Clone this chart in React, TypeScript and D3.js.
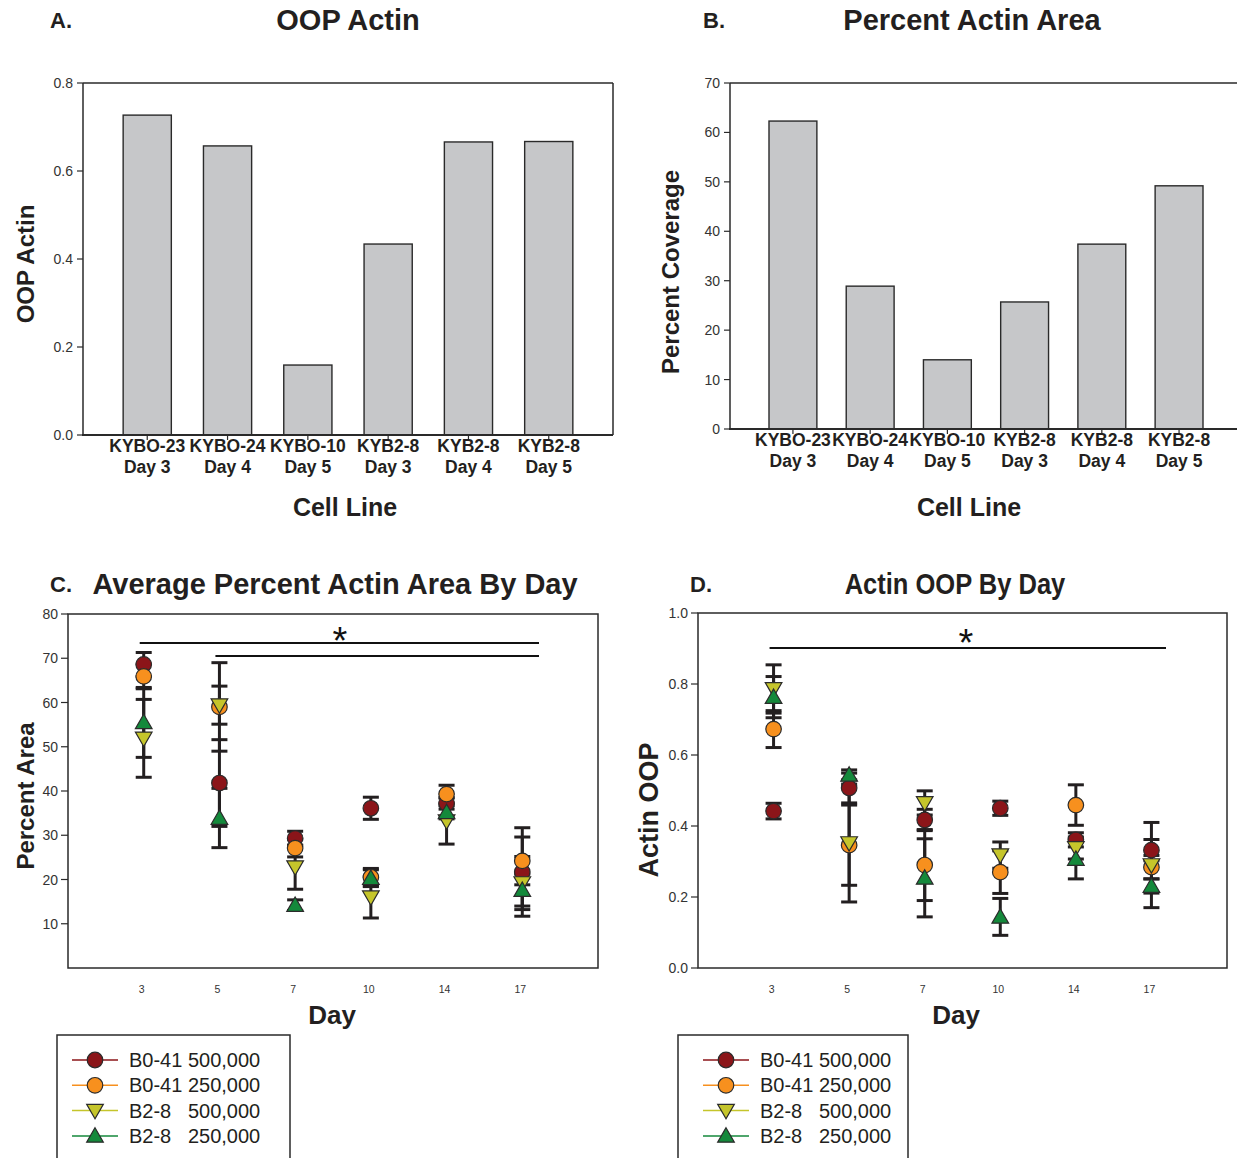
import React from "react";
import * as d3 from "d3";

// ---------- Data ----------
const barLines = ["KYBO-23", "KYBO-24", "KYBO-10", "KYB2-8", "KYB2-8", "KYB2-8"];
const barDays = ["Day 3", "Day 4", "Day 5", "Day 3", "Day 4", "Day 5"];
const oopActin = [0.727, 0.657, 0.159, 0.434, 0.666, 0.667];
const pctCoverage = [62.3, 28.9, 14.0, 25.7, 37.4, 49.2];

const days = ["3", "5", "7", "10", "14", "17"];
const seriesNames = ["B0-41 500,000", "B0-41 250,000", "B2-8   500,000", "B2-8   250,000"];
const seriesColors = ["#8b1519", "#f7901e", "#c5c52b", "#14893b"];
const seriesShapes = ["circle", "circle", "down", "up"];

// Panel C: average percent actin area (mean, error)
const areaB041_500 = [68.6, 41.8, 29.3, 36.1, 37.2, 21.7];
const areaB041_500Err = [2.7, 9.8, 1.6, 2.5, 1.3, 10.0];
const areaB041_250 = [65.9, 59.0, 27.1, 20.5, 39.3, 24.2];
const areaB041_250Err = [2.8, 10.0, 2.0, 2.0, 2.0, 5.4];
const areaB28_500 = [51.9, 59.4, 22.8, 16.0, 33.2, 19.2];
const areaB28_500Err = [8.8, 4.3, 5.0, 4.7, 5.2, 6.0];
const areaB28_250 = [55.5, 33.9, 14.2, 20.3, 35.2, 17.6];
const areaB28_250Err = [7.9, 6.7, 1.2, 1.9, 1.5, 3.6];

// Panel D: actin OOP by day (mean, error)
const oopB041_500 = [0.442, 0.507, 0.417, 0.45, 0.361, 0.332];
const oopB041_500Err = [0.022, 0.042, 0.03, 0.02, 0.02, 0.03];
const oopB041_250 = [0.673, 0.346, 0.29, 0.27, 0.459, 0.284];
const oopB041_250Err = [0.052, 0.113, 0.1, 0.06, 0.057, 0.033];
const oopB28_500 = [0.786, 0.352, 0.465, 0.318, 0.338, 0.29];
const oopB28_500Err = [0.068, 0.166, 0.034, 0.037, 0.031, 0.12];
const oopB28_250 = [0.763, 0.544, 0.254, 0.144, 0.307, 0.231];
const oopB28_250Err = [0.058, 0.014, 0.11, 0.052, 0.056, 0.02];

const areaTicks = [10, 20, 30, 40, 50, 60, 70, 80];
const oopTicks = [0, 0.2, 0.4, 0.6, 0.8, 1.0];
const oopActinTicks = [0, 0.2, 0.4, 0.6, 0.8];
const coverageTicks = [0, 10, 20, 30, 40, 50, 60, 70];

// ---------- Styles ----------
const FONT = "Arial, 'Liberation Sans', Helvetica, sans-serif";
const AX = "#2a2a2a";
const TXT = "#231f20";

function symbolPath(shape: string) {
  if (shape === "circle") return d3.symbol(d3.symbolCircle, 190)()!;
  return d3.symbol(d3.symbolTriangle, 120)()!;
}

function Marker({ x, y, i }: { x: number; y: number; i: number }) {
  const shape = seriesShapes[i];
  const rot = shape === "down" ? 180 : 0;
  const dy = shape === "up" ? 1.5 : shape === "down" ? -1.5 : 0;
  return (
    <path
      d={symbolPath(shape)}
      transform={`translate(${x},${y + dy}) rotate(${rot})`}
      fill={seriesColors[i]}
      stroke="#2b2b2b"
      strokeWidth={1.2}
    />
  );
}

function BarPanel(props: {
  letter: string; title: string; yTitle: string; values: number[]; ticks: number[];
  fmt: (v: number) => string; left: number; right: number; top: number; bottom: number;
  ymax: number; pi: number; po: number; letterX: number; titleX: number; yTitleX: number; yTitleY: number;
}) {
  const { left, right, top, bottom } = props;
  const x = d3.scaleBand<number>().domain(d3.range(props.values.length)).range([left, right]).paddingInner(props.pi).paddingOuter(props.po);
  const y = d3.scaleLinear().domain([0, props.ymax]).range([bottom, top]);
  return (
    <g fontFamily={FONT}>
      <text x={props.letterX} y={28} fontSize={22} fontWeight="bold" fill={TXT}>{props.letter}</text>
      <text x={props.titleX} y={30} fontSize={29} fontWeight="bold" fill={TXT} textAnchor="middle">{props.title}</text>
      {props.values.map((v, i) => (
        <rect key={i} x={x(i)} y={y(v)} width={x.bandwidth()} height={y(0) - y(v)} fill="#c6c7c9" stroke="#2a2a2a" strokeWidth={1.4} />
      ))}
      {/* frame */}
      <line x1={left} x2={right} y1={top} y2={top} stroke={AX} strokeWidth={1.5} />
      <line x1={right} x2={right} y1={top} y2={bottom} stroke={AX} strokeWidth={1.5} />
      <line x1={left} x2={left} y1={top} y2={bottom} stroke={AX} strokeWidth={1.5} />
      <line x1={left - 1} x2={right} y1={bottom} y2={bottom} stroke={AX} strokeWidth={1.8} />
      {props.ticks.map((t) => (
        <g key={t}>
          <line x1={left - 6} x2={left} y1={y(t)} y2={y(t)} stroke={AX} strokeWidth={1.2} />
          <text x={left - 10} y={y(t) + 5} fontSize={14} textAnchor="end" fill="#333">{props.fmt(t)}</text>
        </g>
      ))}
      {props.values.map((_, i) => {
        const c = x(i)! + x.bandwidth() / 2;
        return (
          <g key={i}>
            <line x1={c} x2={c} y1={bottom} y2={bottom + 5} stroke={AX} strokeWidth={1.2} />
            <text x={c} y={bottom + 17} fontSize={17.5} fontWeight="bold" textAnchor="middle" fill={TXT}>{barLines[i]}</text>
            <text x={c} y={bottom + 38} fontSize={17.5} fontWeight="bold" textAnchor="middle" fill={TXT}>{barDays[i]}</text>
          </g>
        );
      })}
      <text x={props.titleX - 3} y={516} fontSize={25} fontWeight="bold" textAnchor="middle" fill={TXT}>Cell Line</text>
      <text transform={`translate(${props.yTitleX},${props.yTitleY}) rotate(-90)`} fontSize={24} fontWeight="bold" textAnchor="middle" fill={TXT}>{props.yTitle}</text>
    </g>
  );
}

function ScatterPanel(props: {
  letter: string; title: string; titleScale: number; yTitle: string; yTitleSize: number; means: number[][]; errs: number[][];
  ticks: number[]; fmt: (v: number) => string; ymin: number; ymax: number;
  left: number; right: number; top: number; bottom: number;
  letterX: number; titleX: number; yTitleX: number; yTitleY: number; dayX: number;
  sig: { from: number; to: number; y: number }[]; starX: number; starY: number;
  legX: number; legW: number; legItemX: number;
}) {
  const { left, right, top, bottom } = props;
  const x = d3.scalePoint<string>().domain(days).range([left, right]).padding(1);
  const y = d3.scaleLinear().domain([props.ymin, props.ymax]).range([bottom, top]);
  const cap = 8;
  const lx = props.legItemX;
  return (
    <g fontFamily={FONT}>
      <text x={props.letterX} y={592} fontSize={22} fontWeight="bold" fill={TXT}>{props.letter}</text>
      <text transform={`translate(${props.titleX},594) scale(${props.titleScale},1)`} fontSize={29} fontWeight="bold" fill={TXT} textAnchor="middle">{props.title}</text>
      <rect x={left} y={top} width={right - left} height={bottom - top} fill="none" stroke={AX} strokeWidth={1.5} />
      {props.ticks.map((t) => (
        <g key={t}>
          <line x1={left - 7} x2={left} y1={y(t)} y2={y(t)} stroke={AX} strokeWidth={1.2} />
          <text x={left - 10} y={y(t) + 5} fontSize={14} textAnchor="end" fill="#333">{props.fmt(t)}</text>
        </g>
      ))}
      {days.map((d) => (
        <text key={d} x={x(d)! - 2} y={993} fontSize={10.5} textAnchor="middle" fill="#333">{d}</text>
      ))}
      <text x={props.dayX} y={1024} fontSize={26} fontWeight="bold" textAnchor="middle" fill={TXT}>Day</text>
      <text transform={`translate(${props.yTitleX},${props.yTitleY}) rotate(-90)`} fontSize={props.yTitleSize} fontWeight="bold" textAnchor="middle" fill={TXT}>{props.yTitle}</text>
      {/* significance */}
      {props.sig.map((s, k) => (
        <line key={k} x1={x(days[s.from])! - 4} x2={s.to} y1={s.y} y2={s.y} stroke="#111" strokeWidth={1.8} />
      ))}
      <text x={props.starX} y={props.starY} fontSize={38} textAnchor="middle" fill="#111">*</text>
      {/* error bars */}
      {props.means.map((ser, i) =>
        ser.map((m, j) => {
          const cx = x(days[j])!;
          const e = props.errs[i][j];
          return (
            <g key={`e${i}-${j}`} stroke="#231f20" strokeWidth={3}>
              <line x1={cx} x2={cx} y1={y(m + e)} y2={y(m - e)} />
              <line x1={cx - cap} x2={cx + cap} y1={y(m + e)} y2={y(m + e)} />
              <line x1={cx - cap} x2={cx + cap} y1={y(m - e)} y2={y(m - e)} />
            </g>
          );
        })
      )}
      {props.means.map((ser, i) =>
        ser.map((m, j) => <Marker key={`m${i}-${j}`} x={x(days[j])!} y={y(m)} i={i} />)
      )}
      {/* legend */}
      <rect x={props.legX} y={1035} width={props.legW} height={140} fill="#fff" stroke={AX} strokeWidth={1.5} />
      {seriesNames.map((n, i) => {
        const ly = 1060 + i * 25.3;
        return (
          <g key={n}>
            <line x1={lx} x2={lx + 46} y1={ly} y2={ly} stroke={seriesColors[i]} strokeWidth={1.5} />
            <Marker x={lx + 23} y={ly} i={i} />
            <text x={lx + 57} y={ly + 7} fontSize={20} fill={TXT} style={{ whiteSpace: "pre" }} xmlSpace="preserve">{n}</text>
          </g>
        );
      })}
    </g>
  );
}

export default function App() {
  const areaMeans = [areaB041_500, areaB041_250, areaB28_500, areaB28_250];
  const areaErrs = [areaB041_500Err, areaB041_250Err, areaB28_500Err, areaB28_250Err];
  const oopMeans = [oopB041_500, oopB041_250, oopB28_500, oopB28_250];
  const oopErrs = [oopB041_500Err, oopB041_250Err, oopB28_500Err, oopB28_250Err];
  return (
    <svg width={1237} height={1158} style={{ position: "absolute", left: 0, top: 0, background: "#fff" }}>
      <rect width={1237} height={1158} fill="#fff" />
      <BarPanel letter="A." title="OOP Actin" yTitle="OOP Actin" values={oopActin} ticks={oopActinTicks}
        fmt={d3.format(".1f")} left={83} right={613} top={83} bottom={435} ymax={0.8} pi={0.4} po={0.5}
        letterX={50} titleX={348} yTitleX={34} yTitleY={264} />
      <BarPanel letter="B." title="Percent Actin Area" yTitle="Percent Coverage" values={pctCoverage} ticks={coverageTicks}
        fmt={d3.format("d")} left={730} right={1242} top={83} bottom={429} ymax={70} pi={0.38} po={0.505}
        letterX={703} titleX={972} yTitleX={679} yTitleY={272} />
      <ScatterPanel letter="C." title="Average Percent Actin Area By Day" titleScale={1} yTitle="Percent Area" yTitleSize={24}
        means={areaMeans} errs={areaErrs} ticks={areaTicks} fmt={d3.format("d")} ymin={0} ymax={80}
        left={68} right={598} top={614} bottom={968} letterX={50} titleX={335} yTitleX={34} yTitleY={796} dayX={332}
        sig={[{ from: 0, to: 539, y: 643 }, { from: 1, to: 539, y: 656 }]} starX={340} starY={654}
        legX={57} legW={233} legItemX={72} />
      <ScatterPanel letter="D." title="Actin OOP By Day" titleScale={0.88} yTitle="Actin OOP" yTitleSize={27}
        means={oopMeans} errs={oopErrs} ticks={oopTicks} fmt={d3.format(".1f")} ymin={0} ymax={1.0}
        left={698} right={1227} top={613} bottom={968} letterX={690} titleX={955} yTitleX={658} yTitleY={810} dayX={956}
        sig={[{ from: 0, to: 1166, y: 648 }]} starX={966} starY={656}
        legX={678} legW={230} legItemX={703} />
    </svg>
  );
}
